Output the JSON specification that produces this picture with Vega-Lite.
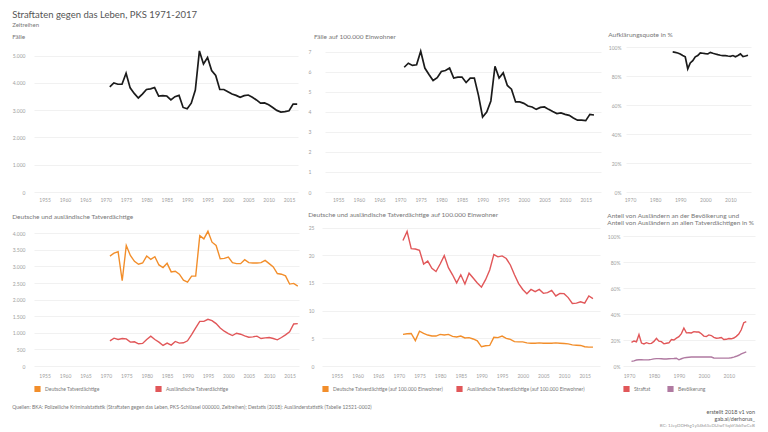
{
"$schema": "https://vega.github.io/schema/vega-lite/v6.json",
"padding": {"left": 12, "top": 10, "right": 4, "bottom": 2},
"background": "white",
"datasets": {"pks": [
{"Jahr":1971,"Faelle":3856,"HZ":6.22,"D":3314,"A":760,"DH":5.71,"AH":22.65,"Straftat":18.2,"Bevölkerung":3.6},
{"Jahr":1972,"Faelle":4000,"HZ":6.42,"D":3404,"A":839,"DH":5.82,"AH":24.29,"Straftat":19.3,"Bevölkerung":4.0},
{"Jahr":1973,"Faelle":3952,"HZ":6.31,"D":3443,"A":799,"DH":5.88,"AH":21.18,"Straftat":18.7,"Bevölkerung":4.6},
{"Jahr":1974,"Faelle":3952,"HZ":6.34,"D":2569,"A":829,"DH":4.59,"AH":21.12,"Straftat":24.3,"Bevölkerung":4.8},
{"Jahr":1975,"Faelle":4359,"HZ":7.02,"D":3632,"A":819,"DH":6.29,"AH":20.88,"Straftat":17.7,"Bevölkerung":4.8},
{"Jahr":1976,"Faelle":3820,"HZ":6.18,"D":3334,"A":720,"DH":5.88,"AH":18.41,"Straftat":17.0,"Bevölkerung":4.7},
{"Jahr":1977,"Faelle":3617,"HZ":5.86,"D":3155,"A":730,"DH":5.59,"AH":18.94,"Straftat":18.0,"Bevölkerung":4.7},
{"Jahr":1978,"Faelle":3449,"HZ":5.56,"D":3066,"A":670,"DH":5.41,"AH":17.65,"Straftat":17.3,"Bevölkerung":4.8},
{"Jahr":1979,"Faelle":3593,"HZ":5.70,"D":3105,"A":680,"DH":5.41,"AH":17.06,"Straftat":17.5,"Bevölkerung":5.1},
{"Jahr":1980,"Faelle":3760,"HZ":6.01,"D":3314,"A":799,"DH":5.71,"AH":18.41,"Straftat":19.0,"Bevölkerung":5.5},
{"Jahr":1981,"Faelle":3784,"HZ":6.06,"D":3215,"A":899,"DH":5.59,"AH":19.94,"Straftat":21.3,"Bevölkerung":5.7},
{"Jahr":1982,"Faelle":3832,"HZ":6.18,"D":3294,"A":799,"DH":5.71,"AH":17.76,"Straftat":19.2,"Bevölkerung":5.7},
{"Jahr":1983,"Faelle":3521,"HZ":5.68,"D":3046,"A":720,"DH":5.35,"AH":16.47,"Straftat":18.8,"Bevölkerung":5.6},
{"Jahr":1984,"Faelle":3533,"HZ":5.73,"D":2966,"A":620,"DH":5.24,"AH":15.0,"Straftat":17.1,"Bevölkerung":5.4},
{"Jahr":1985,"Faelle":3521,"HZ":5.73,"D":3095,"A":690,"DH":5.41,"AH":16.47,"Straftat":17.6,"Bevölkerung":5.4},
{"Jahr":1986,"Faelle":3377,"HZ":5.46,"D":2837,"A":630,"DH":5.06,"AH":14.82,"Straftat":17.9,"Bevölkerung":5.6},
{"Jahr":1987,"Faelle":3497,"HZ":5.68,"AQ":96.6,"D":2857,"A":740,"DH":5.12,"AH":16.76,"Straftat":20.4,"Bevölkerung":5.7},
{"Jahr":1988,"Faelle":3545,"HZ":5.68,"AQ":96.3,"D":2767,"A":690,"DH":4.88,"AH":15.88,"Straftat":20.1,"Bevölkerung":5.8},
{"Jahr":1989,"Faelle":3102,"HZ":4.82,"AQ":95.9,"D":2588,"A":700,"DH":4.53,"AH":15.0,"Straftat":21.5,"Bevölkerung":6.0},
{"Jahr":1990,"Faelle":3054,"HZ":3.74,"AQ":95.2,"D":2529,"A":760,"DH":3.47,"AH":14.24,"Straftat":22.6,"Bevölkerung":4.8},
{"Jahr":1991,"Faelle":3257,"HZ":3.99,"AQ":94.1,"D":2708,"A":948,"DH":3.65,"AH":15.59,"Straftat":25.0,"Bevölkerung":5.6},
{"Jahr":1992,"Faelle":3737,"HZ":4.54,"AQ":93.2,"D":2708,"A":1147,"DH":3.71,"AH":17.35,"Straftat":29.3,"Bevölkerung":6.3},
{"Jahr":1993,"Faelle":5174,"HZ":6.27,"AQ":84.9,"D":3930,"A":1346,"DH":5.18,"AH":20.12,"Straftat":25.6,"Bevölkerung":6.6},
{"Jahr":1994,"Faelle":4695,"HZ":5.68,"AQ":89.0,"D":3831,"A":1346,"DH":5.12,"AH":19.71,"Straftat":25.7,"Bevölkerung":6.8},
{"Jahr":1995,"Faelle":4934,"HZ":5.94,"AQ":90.6,"D":4060,"A":1406,"DH":5.41,"AH":19.88,"Straftat":25.5,"Bevölkerung":6.9},
{"Jahr":1996,"Faelle":4455,"HZ":5.31,"AQ":93.2,"D":3732,"A":1366,"DH":5.0,"AH":19.41,"Straftat":26.5,"Bevölkerung":7.0},
{"Jahr":1997,"Faelle":4275,"HZ":5.13,"AQ":94.1,"D":3632,"A":1277,"DH":4.82,"AH":18.24,"Straftat":26.3,"Bevölkerung":7.0},
{"Jahr":1998,"Faelle":3760,"HZ":4.49,"AQ":95.9,"D":3235,"A":1147,"DH":4.41,"AH":16.47,"Straftat":26.2,"Bevölkerung":7.0},
{"Jahr":1999,"Faelle":3760,"HZ":4.49,"AQ":95.7,"D":3245,"A":1048,"DH":4.35,"AH":14.88,"Straftat":24.9,"Bevölkerung":7.0},
{"Jahr":2000,"Faelle":3677,"HZ":4.42,"AQ":95.4,"D":3284,"A":978,"DH":4.35,"AH":13.82,"Straftat":23.1,"Bevölkerung":6.9},
{"Jahr":2001,"Faelle":3593,"HZ":4.29,"AQ":95.2,"D":3115,"A":919,"DH":4.18,"AH":13.06,"Straftat":22.7,"Bevölkerung":7.0},
{"Jahr":2002,"Faelle":3545,"HZ":4.24,"AQ":96.3,"D":3085,"A":988,"DH":4.12,"AH":13.82,"Straftat":24.0,"Bevölkerung":7.0},
{"Jahr":2003,"Faelle":3473,"HZ":4.12,"AQ":95.7,"D":3085,"A":958,"DH":4.12,"AH":13.41,"Straftat":23.5,"Bevölkerung":6.9},
{"Jahr":2004,"Faelle":3533,"HZ":4.22,"AQ":95.2,"D":3205,"A":909,"DH":4.18,"AH":13.82,"Straftat":22.1,"Bevölkerung":6.2},
{"Jahr":2005,"Faelle":3557,"HZ":4.24,"AQ":94.7,"D":3115,"A":869,"DH":4.12,"AH":13.12,"Straftat":21.4,"Bevölkerung":6.1},
{"Jahr":2006,"Faelle":3473,"HZ":4.12,"AQ":94.3,"D":3105,"A":879,"DH":4.12,"AH":13.24,"Straftat":21.6,"Bevölkerung":6.1},
{"Jahr":2007,"Faelle":3377,"HZ":4.01,"AQ":94.1,"D":3105,"A":899,"DH":4.12,"AH":13.65,"Straftat":22.0,"Bevölkerung":6.1},
{"Jahr":2008,"Faelle":3257,"HZ":3.91,"AQ":94.1,"D":3115,"A":829,"DH":4.18,"AH":12.65,"Straftat":20.5,"Bevölkerung":6.1},
{"Jahr":2009,"Faelle":3269,"HZ":3.94,"AQ":93.8,"D":3185,"A":849,"DH":4.12,"AH":13.12,"Straftat":20.6,"Bevölkerung":6.1},
{"Jahr":2010,"Faelle":3198,"HZ":3.87,"AQ":93.6,"D":3085,"A":859,"DH":4.06,"AH":13.06,"Straftat":21.2,"Bevölkerung":6.1},
{"Jahr":2011,"Faelle":3102,"HZ":3.82,"AQ":94.1,"D":2986,"A":829,"DH":4.0,"AH":12.35,"Straftat":21.0,"Bevölkerung":6.4},
{"Jahr":2012,"Faelle":2994,"HZ":3.69,"AQ":93.2,"D":2787,"A":789,"DH":3.82,"AH":11.29,"Straftat":21.6,"Bevölkerung":6.9},
{"Jahr":2013,"Faelle":2934,"HZ":3.58,"AQ":94.1,"D":2767,"A":859,"DH":3.76,"AH":11.35,"Straftat":22.9,"Bevölkerung":7.5},
{"Jahr":2014,"Faelle":2946,"HZ":3.58,"AQ":95.2,"D":2718,"A":939,"DH":3.71,"AH":11.59,"Straftat":24.7,"Bevölkerung":8.3},
{"Jahr":2015,"Faelle":2982,"HZ":3.56,"AQ":93.4,"D":2469,"A":1028,"DH":3.47,"AH":11.35,"Straftat":28.0,"Bevölkerung":9.4},
{"Jahr":2016,"Faelle":3222,"HZ":3.87,"AQ":93.8,"D":2489,"A":1267,"DH":3.41,"AH":12.65,"Straftat":33.4,"Bevölkerung":10.2},
{"Jahr":2017,"Faelle":3222,"HZ":3.84,"AQ":94.3,"D":2410,"A":1277,"DH":3.41,"AH":12.18,"Straftat":34.3,"Bevölkerung":10.9}
]},
"config": {
  "locale": {"number": {"decimal": ",", "thousands": ".", "grouping": [3], "currency": ["", " €"]}},
  "font": "Lato",
  "view": {"stroke": null},
  "axis": {"domain": false, "ticks": false, "grid": true, "gridColor": "#eeeeee", "gridWidth": 0.8, "labelColor": "#a0a0a0", "labelFontSize": 5, "labelFont": "Lato", "title": null},
  "axisX": {"grid": false, "labelPadding": 5},
  "title": {"anchor": "start", "fontSize": 6.5, "fontWeight": "normal", "color": "#777777", "offset": 7, "font": "Lato", "lineHeight": 6.5},
  "style": {"group-title": {"fontWeight": "normal"}},
  "legend": {"orient": "bottom", "direction": "horizontal", "labelFontSize": 5, "labelColor": "#777777", "labelFont": "Lato", "symbolType": "square", "symbolSize": 10, "symbolStrokeWidth": 3, "labelOffset": 4, "offset": 7, "padding": 0}
},
"title": {"text": "Straftaten gegen das Leben, PKS 1971-2017", "subtitle": "Zeitreihen", "fontSize": 9.5, "fontWeight": "normal", "color": "#555555", "subtitleFontSize": 6, "subtitleColor": "#777777", "subtitlePadding": 2, "offset": 4, "anchor": "start", "font": "Lato", "subtitleFont": "Lato"},
"resolve": {"scale": {"color": "independent"}, "legend": {"color": "independent"}},
"spacing": 10,
"vconcat": [
 {"spacing": 7, "hconcat": [
  {"width": 264, "height": 145, "title": {"text": "Fälle", "fontWeight": "normal"}, "data": {"name": "pks"},
   "mark": {"type": "line", "color": "#1b1b1b", "strokeWidth": 1.7},
   "encoding": {
    "x": {"field": "Jahr", "type": "quantitative", "scale": {"domain": [1952.4, 2017.2], "nice": false, "zero": false}, "axis": {"values": [1955,1960,1965,1970,1975,1980,1985,1990,1995,2000,2005,2010,2015], "format": "d"}},
    "y": {"field": "Faelle", "type": "quantitative", "scale": {"domain": [0, 5319], "nice": false}, "axis": {"values": [0,1000,2000,3000,4000,5000], "format": ",d", "labelPadding": 9}}}},
  {"width": 276, "height": 145, "title": {"text": "Fälle auf 100.000 Einwohner", "fontWeight": "normal", "dx": 6}, "data": {"name": "pks"},
   "mark": {"type": "line", "color": "#1b1b1b", "strokeWidth": 1.7},
   "encoding": {
    "x": {"field": "Jahr", "type": "quantitative", "scale": {"domain": [1951.8, 2018.7], "nice": false, "zero": false}, "axis": {"values": [1955,1960,1965,1970,1975,1980,1985,1990,1995,2000,2005,2010,2015], "format": "d"}},
    "y": {"field": "HZ", "type": "quantitative", "scale": {"domain": [0, 7.23], "nice": false}, "axis": {"values": [0,1,2,3,4,5,6,7], "format": "d", "labelPadding": 14}}}},
  {"width": 125, "height": 145, "title": {"text": "Aufklärungsquote in %", "fontWeight": "normal"}, "data": {"name": "pks"},
   "mark": {"type": "line", "color": "#1b1b1b", "strokeWidth": 1.7},
   "encoding": {
    "x": {"field": "Jahr", "type": "quantitative", "scale": {"domain": [1968.4, 2018.2], "nice": false, "zero": false}, "axis": {"values": [1970,1980,1990,2000,2010], "format": "d"}},
    "y": {"field": "AQ", "type": "quantitative", "scale": {"domain": [0, 100], "nice": false}, "axis": {"values": [0,20,40,60,80,100], "labelExpr": "datum.value + '%'", "labelPadding": 5}}}}
 ]},
 {"resolve": {"scale": {"color": "independent"}, "legend": {"color": "independent"}},
  "title": {"text": ["erstellt 2018 v1 von", "gab.ai/derhorus_"], "subtitle": "BC: 1JeyDDHkg1yS4k6SeDUiwT5qbYJbbTwCeB", "orient": "bottom", "anchor": "end", "fontSize": 5.5, "fontWeight": "normal", "color": "#555555", "subtitleFontSize": 4.5, "subtitleColor": "#999999", "subtitlePadding": 1, "offset": 0, "lineHeight": 6.5},
  "vconcat": [
  {"spacing": 7,
   "resolve": {"scale": {"color": "independent"}, "legend": {"color": "independent"}},
   "title": {"text": "Quellen: BKA: Polizeiliche Kriminalstatistik (Straftaten gegen das Leben, PKS-Schlüssel 000000, Zeitreihen); Destatis (2018): Ausländerstatistik (Tabelle 12521-0002)", "orient": "bottom", "anchor": "start", "fontSize": 5, "fontWeight": "normal", "color": "#777777", "offset": 8},
   "hconcat": [
   {"width": 265, "height": 139, "title": {"text": "Deutsche und ausländische Tatverdächtige", "offset": 7, "fontWeight": "normal"}, "data": {"name": "pks"},
    "transform": [{"fold": ["D", "A"], "as": ["Gruppe", "Wert"]}],
    "mark": {"type": "line", "strokeWidth": 1.4},
    "encoding": {
     "x": {"field": "Jahr", "type": "quantitative", "scale": {"domain": [1952.4, 2017.3], "nice": false, "zero": false}, "axis": {"values": [1955,1960,1965,1970,1975,1980,1985,1990,1995,2000,2005,2010,2015], "format": "d", "labelPadding": 7}},
     "y": {"field": "Wert", "type": "quantitative", "scale": {"domain": [0, 4190], "nice": false}, "axis": {"values": [0,500,1000,1500,2000,2500,3000,3500,4000], "format": ",d", "labelPadding": 9}},
     "color": {"field": "Gruppe", "type": "nominal", "scale": {"domain": ["D", "A"], "range": ["#F28E2B", "#E15759"]}, "legend": {"title": null, "labelExpr": "datum.value == 'D' ? 'Deutsche Tatverdächtige' : 'Ausländische Tatverdächtige'", "columnPadding": 50}}}},
   {"width": 278, "height": 139, "title": {"text": "Deutsche und ausländische Tatverdächtige auf 100.000 Einwohner", "offset": 7, "fontWeight": "normal"}, "data": {"name": "pks"},
    "transform": [{"fold": ["DH", "AH"], "as": ["Gruppe", "Wert"]}],
    "mark": {"type": "line", "strokeWidth": 1.4},
    "encoding": {
     "x": {"field": "Jahr", "type": "quantitative", "scale": {"domain": [1951.4, 2018.7], "nice": false, "zero": false}, "axis": {"values": [1955,1960,1965,1970,1975,1980,1985,1990,1995,2000,2005,2010,2015], "format": "d", "labelPadding": 7}},
     "y": {"field": "Wert", "type": "quantitative", "scale": {"domain": [0, 25.1], "nice": false}, "axis": {"values": [0,5,10,15,20,25], "format": "d", "labelPadding": 8}},
     "color": {"field": "Gruppe", "type": "nominal", "scale": {"domain": ["DH", "AH"], "range": ["#F28E2B", "#E15759"]}, "legend": {"title": null, "labelExpr": "datum.value == 'DH' ? 'Deutsche Tatverdächtige (auf 100.000 Einwohner)' : 'Ausländische Tatverdächtige (auf 100.000 Einwohner)'", "columnPadding": 8}}}},
   {"width": 132, "height": 139, "title": {"text": ["Anteil von Ausländern an der Bevölkerung und", "Anteil von Ausländern an allen Tatverdächtigen in %"], "offset": 1, "fontWeight": "normal"}, "data": {"name": "pks"},
    "transform": [{"fold": ["Straftat", "Bevölkerung"], "as": ["Gruppe", "Wert"]}],
    "mark": {"type": "line", "strokeWidth": 1.4},
    "encoding": {
     "x": {"field": "Jahr", "type": "quantitative", "scale": {"domain": [1967.6, 2020.5], "nice": false, "zero": false}, "axis": {"values": [1970,1980,1990,2000,2010], "format": "d", "labelPadding": 7}},
     "y": {"field": "Wert", "type": "quantitative", "scale": {"domain": [0, 107.3], "nice": false}, "axis": {"values": [0,20,40,60,80,100], "labelExpr": "datum.value + '%'", "labelPadding": 3}},
     "color": {"field": "Gruppe", "type": "nominal", "scale": {"domain": ["Straftat", "Bevölkerung"], "range": ["#E15759", "#B07AA1"]}, "legend": {"title": null, "columnPadding": 11}}}}
  ]}
 ]}
]
}
